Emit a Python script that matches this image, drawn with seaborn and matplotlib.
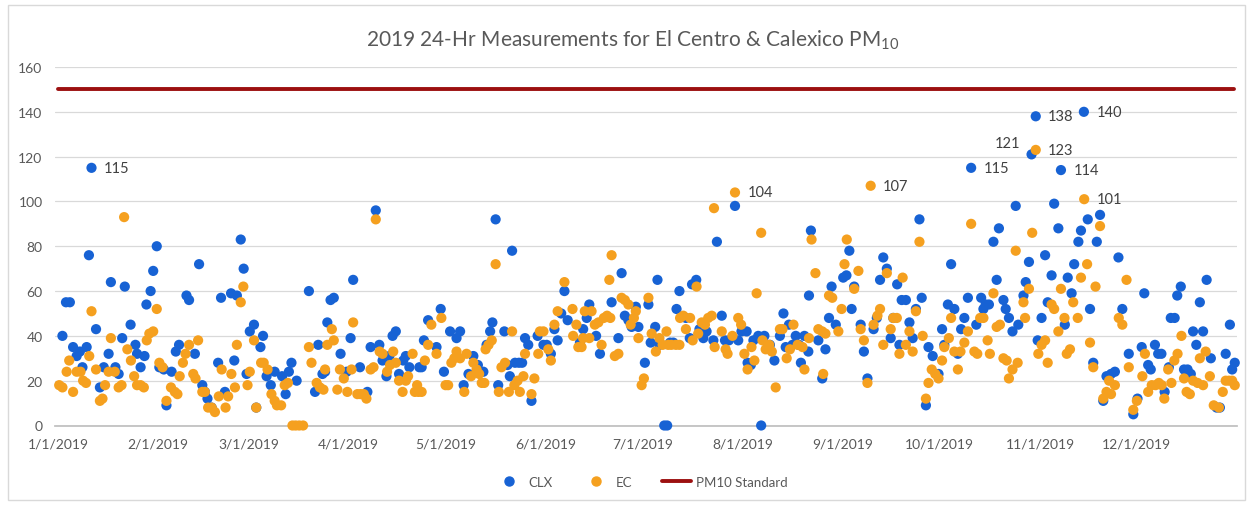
import pandas as pd
import seaborn as sns
import matplotlib.pyplot as plt
from matplotlib.lines import Line2D
from matplotlib.patches import Rectangle

# leituras diarias (dia do ano, PM10 ug/m3)
year_start = pd.Timestamp('2019-01-01')
standard = 150
titulo = '2019 24-Hr Measurements for El Centro & Calexico PM$_{10}$'
month_labels = ['1/1/2019', '2/1/2019', '3/1/2019', '4/1/2019', '5/1/2019', '6/1/2019',
                '7/1/2019', '8/1/2019', '9/1/2019', '10/1/2019', '11/1/2019', '12/1/2019']

clx_readings = [
    (1.4, 40), (2.5, 55), (3.7, 55), (4.7, 35), (5.8, 31), (6.8, 33), (7.6, 26), (8.9, 35), (9.6, 76), (10.4, 115),
    (11.8, 43), (13.0, 17), (14.2, 26), (15.7, 32), (16.4, 64), (17.8, 26), (18.8, 23), (19.9, 39), (20.7, 62), (22.5, 45),
    (24.0, 36), (24.5, 32), (25.6, 26), (26.8, 31), (27.4, 54), (28.7, 60), (29.5, 69), (30.6, 80), (31.4, 26), (32.8, 25),
    (33.6, 9), (35.2, 24),
    (36.5, 33), (37.5, 36), (39.8, 58), (40.6, 56), (42.4, 32), (43.7, 72), (44.7, 18), (45.5, 15), (46.3, 12), (47.6, 8),
    (49.6, 28), (50.5, 57), (51.7, 15), (53.6, 59), (54.6, 29), (55.4, 58), (56.6, 83), (57.5, 70), (58.4, 23), (59.4, 42),
    (60.7, 45), (61.4, 8), (62.7, 35), (63.5, 40), (64.6, 22), (65.9, 18), (67.1, 24), (69.4, 22), (70.5, 14), (71.5, 24),
    (72.3, 28), (73.9, 20),
    (77.7, 60), (79.6, 15), (80.6, 36), (81.9, 23), (82.7, 24), (83.4, 46), (84.4, 56), (85.4, 57), (87.5, 32), (89.4, 24),
    (90.6, 39), (91.4, 65), (93.5, 26), (95.8, 15), (96.8, 35), (98.4, 96), (99.5, 36), (100.5, 29), (101.7, 22), (102.6, 31),
    (103.6, 40), (104.6, 42), (105.6, 23), (106.9, 29), (107.7, 31), (108.8, 26), (111.9, 26), (112.6, 26), (113.3, 38), (114.6, 47),
    (117.2, 35), (118.5, 52), (119.5, 24),
    (121.4, 42), (123.4, 39), (124.5, 42), (125.6, 18), (127.1, 23), (128.6, 31), (130.0, 27), (131.7, 24), (132.7, 36), (133.8, 42),
    (134.5, 46), (135.5, 92), (136.3, 18), (138.2, 42), (139.2, 27), (139.9, 22), (140.6, 78), (141.5, 28), (142.7, 28), (143.7, 28),
    (144.6, 39), (145.6, 36), (146.6, 11), (148.5, 40), (150.3, 36), (151.3, 36), (152.6, 32), (153.7, 43), (154.7, 38), (155.8, 50),
    (156.8, 60), (157.8, 47),
    (161.6, 37), (162.6, 43), (163.7, 48), (164.5, 54), (166.6, 40), (167.8, 32), (171.4, 55), (173.5, 39), (174.5, 68), (175.5, 49),
    (176.6, 47), (177.6, 44), (178.9, 53), (179.7, 44), (181.7, 28), (182.8, 54), (183.5, 37), (184.9, 44), (185.6, 65), (186.2, 36),
    (187.7, 0), (188.6, 0), (189.5, 37), (190.5, 37), (191.5, 52), (192.4, 60), (194.4, 48), (195.6, 39), (196.3, 63), (197.6, 65),
    (198.6, 43), (199.8, 39), (200.8, 42), (202.9, 38), (204.0, 82),
    (205.5, 49), (206.5, 38), (207.7, 38), (209.6, 98), (210.6, 38), (211.6, 42), (213.2, 42), (213.5, 28), (214.5, 27), (215.3, 38),
    (216.8, 40), (217.7, 0), (218.7, 40), (220.4, 36), (221.8, 29), (223.5, 40), (224.6, 50), (225.3, 35), (226.3, 45), (227.4, 36),
    (228.4, 40), (229.4, 36), (230.0, 28), (231.1, 40), (232.3, 33), (232.5, 58), (233.1, 87), (235.4, 38), (236.6, 21), (237.6, 34),
    (238.7, 48), (239.5, 62), (240.8, 45),
    (243.1, 66), (244.1, 67), (245.0, 78), (245.7, 52), (246.5, 62), (248.5, 45), (249.5, 33), (250.6, 21), (252.5, 43), (253.5, 48),
    (254.5, 65), (255.5, 75), (256.6, 70), (257.8, 39), (258.6, 48), (259.8, 63), (260.5, 36), (261.2, 56), (262.5, 56), (263.6, 46),
    (264.6, 39), (265.6, 52), (266.7, 92), (267.4, 57), (268.7, 9), (269.5, 35), (270.8, 31), (272.6, 23), (273.7, 43), (274.4, 36),
    (275.5, 54), (276.5, 72), (277.5, 52), (278.6, 32), (279.6, 43), (280.6, 48), (281.7, 57), (282.7, 115), (284.3, 45), (285.8, 57),
    (286.5, 52), (287.2, 54), (288.2, 54), (289.6, 82), (290.6, 65), (291.3, 88), (292.7, 56), (293.4, 52), (294.4, 48), (295.5, 42),
    (296.5, 98), (297.3, 45), (298.9, 58), (299.6, 64), (300.6, 73), (301.4, 121), (302.7, 138), (303.3, 38), (304.5, 48), (305.6, 76),
    (306.4, 55), (307.6, 67), (308.4, 99), (309.7, 88), (310.5, 114), (311.7, 45), (312.6, 66), (313.8, 59), (314.6, 72), (315.9, 82),
    (316.7, 87), (317.6, 140), (318.8, 92), (319.5, 52), (320.5, 28), (321.6, 82), (322.6, 94), (323.6, 11), (324.6, 22), (326.0, 23),
    (327.2, 24), (328.3, 75),
    (329.5, 52), (331.5, 32), (332.9, 5), (334.2, 12), (335.5, 35), (336.3, 59), (337.5, 27), (338.3, 25), (339.6, 36), (340.6, 32),
    (341.6, 32), (342.6, 15), (343.9, 26), (344.5, 48), (345.7, 48), (346.5, 58), (347.6, 62), (348.6, 25), (349.7, 25), (350.7, 23),
    (351.4, 42), (352.4, 36), (353.5, 55), (354.5, 42), (355.6, 65), (356.9, 30), (358.7, 8), (359.7, 8), (361.5, 32), (362.8, 45),
    (363.5, 25), (364.3, 28),
]

ec_readings = [
    (0.4, 18), (1.4, 17), (2.7, 24), (3.5, 29), (4.7, 15), (5.8, 24), (7.0, 24), (7.8, 20), (8.7, 19), (9.7, 31),
    (10.4, 51), (11.8, 25), (13.0, 11), (13.8, 12), (14.6, 18), (15.7, 24), (16.4, 39), (17.6, 24), (18.8, 17), (19.7, 18),
    (20.5, 93), (21.5, 34), (22.6, 29), (23.6, 22), (24.5, 18), (25.6, 18), (26.6, 17), (27.5, 38), (28.3, 41), (29.5, 42),
    (30.6, 52), (31.4, 28), (32.4, 26), (33.6, 11),
    (35.0, 17), (36.2, 15), (37.0, 14), (37.7, 22), (38.7, 28), (39.5, 32), (40.6, 36), (41.9, 23), (42.6, 21), (43.4, 38),
    (44.7, 15), (45.5, 15), (46.5, 8), (47.6, 8), (48.6, 6), (49.8, 13), (50.7, 25), (51.9, 8), (52.7, 13), (53.7, 23),
    (54.8, 17), (55.4, 36), (56.6, 55), (57.4, 62), (58.7, 18), (59.4, 24), (60.7, 38), (61.4, 8), (62.9, 28), (63.7, 28),
    (64.9, 25), (66.1, 14), (67.1, 11), (67.8, 9), (69.1, 9), (70.2, 18), (71.2, 19), (72.6, 0), (73.6, 0), (74.7, 0), (75.9, 0),
    (77.7, 35), (78.5, 28), (80.1, 19), (81.1, 17), (82.2, 16), (82.7, 25), (83.4, 36), (84.8, 43), (85.4, 38), (86.5, 16),
    (87.3, 25), (88.5, 21), (89.6, 15), (90.9, 25), (91.4, 46), (92.7, 14), (93.7, 14), (94.7, 14), (95.5, 12), (96.8, 25),
    (97.7, 26), (98.4, 92), (99.6, 33), (100.5, 32), (101.9, 24), (102.8, 27), (103.8, 33), (104.6, 28), (105.6, 20), (106.7, 15),
    (107.7, 20), (108.4, 22), (109.8, 32), (110.5, 15), (111.2, 18), (111.6, 15), (112.6, 15), (113.6, 29), (114.6, 36), (115.6, 45),
    (117.2, 32), (118.7, 48),
    (120.0, 18), (120.8, 18), (121.8, 28), (122.7, 30), (123.4, 33), (124.5, 30), (125.8, 15), (126.5, 32), (127.9, 22), (128.6, 28),
    (129.6, 25), (130.4, 23), (131.2, 19), (132.0, 19), (132.4, 34), (133.3, 36), (134.3, 38), (135.5, 72), (136.5, 15), (137.3, 26),
    (138.4, 28), (139.6, 15), (140.6, 42), (141.3, 18), (142.3, 20), (143.0, 15), (144.1, 22), (144.6, 32), (146.6, 14), (147.5, 21),
    (148.7, 32), (149.2, 42), (150.3, 42), (151.8, 34), (152.6, 29), (153.7, 45), (154.7, 51), (156.8, 64),
    (159.3, 52), (159.5, 40), (160.5, 45), (161.1, 35), (162.1, 35), (162.6, 39), (163.1, 51), (164.5, 39), (165.2, 51), (166.2, 45),
    (167.3, 46), (168.3, 36), (169.0, 48), (170.0, 49), (170.7, 65), (171.0, 48), (171.4, 76), (172.4, 31), (173.5, 32), (174.5, 57),
    (175.5, 56), (176.6, 54), (177.3, 45), (178.3, 48), (178.9, 51), (179.7, 39), (180.7, 18), (181.4, 21), (182.8, 57), (183.8, 41),
    (185.1, 33), (186.2, 39), (187.2, 36), (188.4, 42), (188.9, 36), (189.9, 36), (191.3, 36), (192.4, 36), (192.6, 48), (193.6, 49),
    (194.4, 43), (195.7, 48), (196.5, 38), (197.7, 62), (198.2, 41), (199.3, 46), (200.3, 45), (201.3, 48), (202.4, 49), (203.1, 97),
    (203.3, 35),
    (205.5, 42), (206.7, 34), (207.3, 32), (208.8, 40), (209.6, 104), (210.6, 48), (211.5, 45), (212.5, 32), (213.5, 25), (214.7, 35),
    (215.6, 29), (216.3, 59), (217.7, 86), (218.1, 38), (219.1, 34), (220.2, 36), (221.0, 33), (222.2, 17), (223.5, 43), (224.3, 43),
    (225.6, 30), (226.6, 34), (227.7, 45), (229.0, 36), (230.5, 35), (231.1, 25), (232.5, 39), (233.3, 83), (234.5, 68), (235.4, 43),
    (236.6, 42), (236.9, 23), (237.6, 41), (238.7, 58), (239.7, 57), (241.6, 42), (242.6, 52), (243.5, 72), (244.2, 83),
    (246.5, 61), (247.8, 69), (248.5, 43), (249.5, 38), (250.6, 19), (251.6, 107), (252.5, 45), (253.7, 49), (254.5, 52), (255.5, 36),
    (256.6, 68), (257.8, 43), (258.6, 48), (259.7, 48), (260.5, 32), (261.5, 66), (262.5, 36), (263.6, 42), (264.6, 33), (265.6, 51),
    (266.7, 82), (267.7, 40), (268.7, 12), (269.5, 19), (270.5, 25), (271.6, 23), (272.6, 21), (273.7, 29), (274.4, 35), (275.8, 39),
    (276.5, 48), (277.5, 33), (278.6, 25), (279.4, 33), (280.6, 37), (281.7, 42), (282.7, 90), (283.7, 33), (284.6, 32),
    (285.5, 48), (286.5, 48), (287.8, 38), (288.5, 32), (289.6, 59), (290.6, 44), (291.6, 45), (292.7, 30), (293.7, 29), (294.4, 21),
    (295.5, 25), (296.5, 78), (297.1, 28), (298.9, 55), (299.4, 48), (300.6, 61), (301.6, 86), (302.7, 123), (303.5, 32), (304.5, 36),
    (305.6, 38), (306.4, 28), (307.6, 54), (308.4, 52), (309.7, 42), (310.5, 61), (311.6, 48), (312.3, 32), (313.3, 34), (314.3, 55),
    (315.7, 48), (316.7, 66), (317.7, 101), (318.6, 72), (319.5, 37), (320.5, 26), (321.2, 62), (322.6, 89), (323.6, 12), (324.6, 15),
    (325.4, 20), (326.0, 14), (327.2, 18), (328.4, 48),
    (329.5, 45), (330.8, 65), (331.5, 26), (332.9, 7), (334.0, 11), (335.7, 22), (336.5, 32), (337.5, 15), (338.6, 18), (339.8, 18),
    (340.8, 19), (341.7, 18), (342.5, 12), (343.7, 25), (344.7, 19), (345.6, 29), (346.6, 32), (347.8, 40), (348.6, 21), (349.4, 15),
    (350.4, 14), (351.4, 20), (352.8, 19), (353.5, 30), (354.5, 18), (355.3, 33), (356.6, 22), (357.8, 9), (359.4, 8), (360.6, 15),
    (361.5, 20), (362.5, 20), (363.5, 20), (364.3, 18),
]

cores = {'CLX': '#1762d4', 'EC': '#f5a01f'}
vermelho = '#9c1010'
cinza = '#595959'


def monta_tabela(leituras, estacao):
    dias, valores = zip(*leituras)
    return pd.DataFrame({'date': year_start + pd.to_timedelta(list(dias), unit='D'),
                         'pm10': valores, 'site': estacao})


dados = pd.concat([monta_tabela(clx_readings, 'CLX'), monta_tabela(ec_readings, 'EC')], ignore_index=True)
padrao = pd.DataFrame({'date': [year_start, year_start + pd.Timedelta(days=364)], 'pm10': [standard, standard]})

sns.set_theme(style='white')
plt.rcParams['font.family'] = ['Lato', 'DejaVu Sans']
plt.rcParams['mathtext.default'] = 'regular'

fig = plt.figure(figsize=(12.51, 5.06), dpi=100)
ax = fig.add_axes([55 / 1251, 79.5 / 506, 1182 / 1251, 358.5 / 506])

sns.lineplot(data=padrao, x='date', y='pm10', color=vermelho, lw=2.8, ax=ax, zorder=2)
sns.scatterplot(data=dados, x='date', y='pm10', hue='site', palette=cores, s=54, linewidth=0,
                legend=False, ax=ax, zorder=3, clip_on=False)

# rotulos dos picos acima de 100
for _, linha in dados[dados['pm10'] > 100].iterrows():
    esquerda = linha['pm10'] == 121
    ax.annotate(str(linha['pm10']), (linha['date'], linha['pm10']),
                xytext=(-8, 8) if esquerda else (9, 0), textcoords='offset points',
                ha='right' if esquerda else 'left', va='center', fontsize=10.5, color='#404040')

ax.set_ylim(0, 160)
ax.set_yticks(range(0, 161, 20))
ax.set_xlim(year_start - pd.Timedelta(days=0.9), year_start + pd.Timedelta(days=365))
ax.set_xticks(pd.date_range(year_start, periods=12, freq='MS'))
ax.set_xticklabels(month_labels)
ax.set_xlabel('')
ax.set_ylabel('')
ax.grid(axis='y', color='#d9d9d9', lw=0.9)
ax.set_axisbelow(True)
for lado in ['left', 'right', 'top']:
    ax.spines[lado].set_visible(False)
ax.spines['bottom'].set_color('#bfbfbf')
ax.tick_params(axis='x', length=5, width=0.9, color='#bfbfbf', direction='out', labelsize=10,
               labelcolor=cinza, pad=4)
ax.tick_params(axis='y', length=0, labelsize=10, labelcolor=cinza, pad=9)

fig.text(633 / 1251, 1 - 40 / 506, titulo, ha='center', va='center', fontsize=15, color=cinza)

alcas = [Line2D([], [], marker='o', ls='none', color=cores['CLX'], markersize=6.5),
         Line2D([], [], marker='o', ls='none', color=cores['EC'], markersize=6.5),
         Line2D([], [], color=vermelho, lw=2.8)]
fig.legend(alcas, ['CLX', 'EC', 'PM10 Standard'], loc='center', bbox_to_anchor=(641 / 1251, 23 / 506),
           ncol=3, frameon=False, fontsize=9.5, labelcolor=cinza, handlelength=2.2, columnspacing=2.2,
           handletextpad=0.4)

fig.patches.append(Rectangle((8 / 1251, 5 / 506), 1237 / 1251, 495 / 506, transform=fig.transFigure,
                             fill=False, ec='#d9d9d9', lw=1))

plt.savefig('out.png', dpi=100)
